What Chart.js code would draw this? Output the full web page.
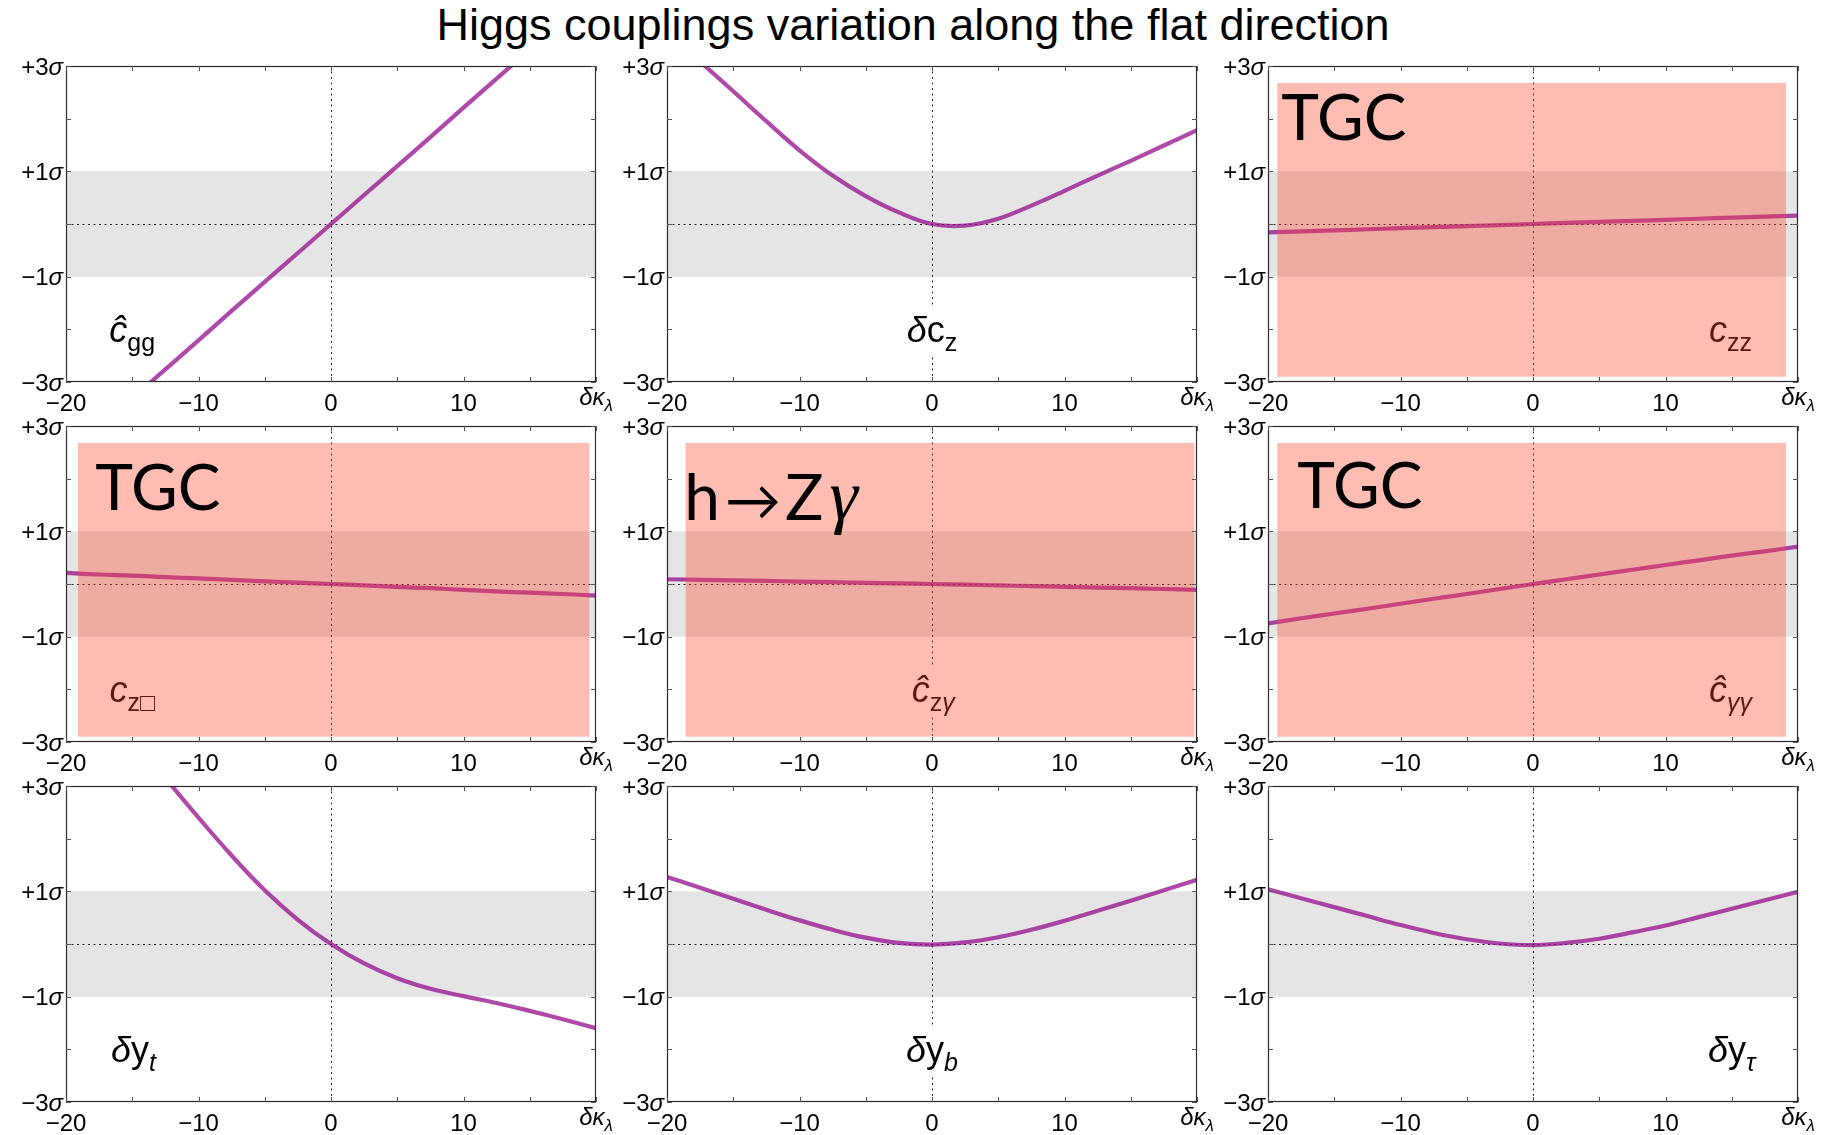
<!DOCTYPE html>
<html>
<head>
<meta charset="utf-8">
<script src="https://cdn.jsdelivr.net/npm/chart.js@4.4.1/dist/chart.umd.min.js"></script>
<style>
  html, body { margin: 0; padding: 0; background: #fff; }
  #page { position: relative; width: 1821px; height: 1135px; overflow: hidden; background: #fff; }
  #title { position: absolute; top: 3px; left: 913px; transform: translateX(-50%); white-space: nowrap;
           font: 45px/44px "Liberation Sans", Arial, sans-serif; color: #000; }
  canvas { position: absolute; }
</style>
</head>
<body>
<div id="page">
  <div id="title">Higgs couplings variation along the flat direction</div>
</div>
<script>
// valori: asse x = δκλ, asse y in unità di σ
const kappaGrid = [-20, -17.5, -15, -12.5, -10, -7.5, -5, -2.5, 0, 2.5, 5, 7.5, 10, 12.5, 15, 17.5, 20];

const cggValues   = [-4.41, -3.86, -3.31, -2.76, -2.21, -1.65, -1.10, -0.55, 0, 0.55, 1.10, 1.65, 2.21, 2.76, 3.31, 3.86, 4.41];
const dczValues   = [3.62, 3.08, 2.52, 1.95, 1.40, 0.92, 0.53, 0.22, 0.0, -0.03, 0.10, 0.35, 0.63, 0.92, 1.20, 1.49, 1.78];
const czzValues   = [-0.16, -0.14, -0.12, -0.10, -0.08, -0.06, -0.04, -0.02, 0, 0.02, 0.04, 0.06, 0.08, 0.10, 0.12, 0.14, 0.16];
const czBoxValues = [0.21, 0.18, 0.16, 0.13, 0.105, 0.08, 0.05, 0.026, 0, -0.027, -0.055, -0.08, -0.11, -0.14, -0.165, -0.19, -0.22];
const czgValues   = [0.09, 0.08, 0.07, 0.06, 0.045, 0.035, 0.022, 0.011, 0, -0.013, -0.026, -0.04, -0.053, -0.067, -0.08, -0.095, -0.11];
const cggamValues = [-0.75, -0.65, -0.56, -0.47, -0.375, -0.28, -0.19, -0.095, 0, 0.09, 0.18, 0.27, 0.36, 0.45, 0.54, 0.62, 0.71];
const dytValues   = [5.55, 4.72, 3.92, 3.15, 2.40, 1.68, 1.02, 0.46, 0, -0.37, -0.65, -0.85, -0.99, -1.12, -1.27, -1.43, -1.60];
const dybValues   = [1.27, 1.07, 0.86, 0.65, 0.45, 0.27, 0.12, 0.02, -0.01, 0.03, 0.13, 0.27, 0.44, 0.63, 0.82, 1.02, 1.22];
const dytauValues = [1.04, 0.87, 0.70, 0.53, 0.36, 0.21, 0.09, 0.01, -0.02, 0.02, 0.10, 0.22, 0.35, 0.51, 0.67, 0.83, 0.99];

const xLabelValues = [-20, -10, 0, 10];
const xLabelTexts  = ['−20', '−10', '0', '10'];
const yLabelValues = [3, 1, -1, -3];
const yLabelTexts  = ['+3', '+1', '−1', '−3'];
const bandRange = [-1, 1];
const boxYRange = [-2.9, 2.68];

// griglia 3x3
const colLeft = [66, 667, 1268];
const rowTop = [66, 426, 786];
const plotW = 530, plotH = 316;
const PAD_L = 66, PAD_R = 24, PAD_T = 14, PAD_B = 36;

const LINE = 'rgba(148, 12, 138, 0.75)';
const OVERLAY = 'rgba(255, 70, 45, 0.36)';
const SANS = '"Liberation Sans", Arial, sans-serif';
const SERIF = '"Liberation Serif", serif';
const BIG = 'Lato, "Liberation Sans", sans-serif';

const panels = [
  { values: cggValues, label: [{ t: 'ĉ', it: true }, { t: 'gg', sub: true }], labelX: -15 },
  { values: dczValues, label: [{ t: 'δ', it: true }, { t: 'c' }, { t: 'z', sub: true }], labelX: 0 },
  { values: czzValues, label: [{ t: 'c', it: true }, { t: 'zz', sub: true }], labelX: 14.9,
    box: [-19.3, 19.1], big: { parts: [{ t: 'TGC' }], x: -19.0, y: 1.6 } },
  { values: czBoxValues, label: [{ t: 'c', it: true }, { t: 'z□', sub: true }], labelX: -15,
    box: [-19.1, 19.5], big: { parts: [{ t: 'TGC' }], x: -17.8, y: 1.4 } },
  { values: czgValues, label: [{ t: 'ĉ', it: true }, { t: 'z', sub: true }, { t: 'γ', sub: true, it: true }], labelX: 0.1,
    box: [-18.6, 19.8],
    big: { parts: [{ t: 'h' }, { t: '→', dx: 5, size: 56 }, { t: 'Z', dx: 4 }, { t: 'γ', it: true, serif: true, dx: 6, size: 72 }], x: -18.7, y: 1.22 } },
  { values: cggamValues, label: [{ t: 'ĉ', it: true }, { t: 'γγ', sub: true, it: true }], labelX: 14.9,
    box: [-19.3, 19.1], big: { parts: [{ t: 'TGC' }], x: -17.8, y: 1.44 } },
  { values: dytValues, label: [{ t: 'δ', it: true }, { t: 'y' }, { t: 't', sub: true, it: true }], labelX: -14.9 },
  { values: dybValues, label: [{ t: 'δ', it: true }, { t: 'y' }, { t: 'b', sub: true, it: true }], labelX: 0 },
  { values: dytauValues, label: [{ t: 'δ', it: true }, { t: 'y' }, { t: 'τ', sub: true, it: true }], labelX: 15 }
];

function fontFor(p, size, fam) {
  const base = p.size || size;
  const s = p.sub ? Math.round(base * 0.7) : base;
  return (p.it ? 'italic ' : '') + s + 'px ' + (p.serif ? SERIF : (fam || SANS));
}

// testo con corsivo/pedici, restituisce [inizio, larghezza]
function drawRich(ctx, parts, x, y, size, align, fam, dry) {
  let total = 0;
  parts.forEach(p => { ctx.font = fontFor(p, size, fam); total += ctx.measureText(p.t).width + (p.dx || 0); });
  let cx = align === 'center' ? x - total / 2 : align === 'right' ? x - total : x;
  const start = cx;
  if (!dry) {
    parts.forEach(p => {
      ctx.font = fontFor(p, size, fam);
      cx += p.dx || 0;
      ctx.fillText(p.t, cx, y + (p.sub ? size * 0.24 : 0));
      cx += ctx.measureText(p.t).width;
    });
  }
  return [start, total];
}

function decorPlugin(p) {
  return {
    id: 'decor',
    beforeDatasetsDraw(chart) {
      const { ctx, chartArea: a, scales: { x, y } } = chart;
      ctx.save();
      ctx.fillStyle = '#e5e5e5';
      const yb1 = y.getPixelForValue(bandRange[1]), yb0 = y.getPixelForValue(bandRange[0]);
      ctx.fillRect(a.left, yb1, a.right - a.left, yb0 - yb1);
      ctx.strokeStyle = 'rgba(0,0,0,0.85)';
      ctx.lineWidth = 1;
      ctx.setLineDash([2, 3.5]);
      const x0 = Math.round(x.getPixelForValue(0)) + 0.5;
      const y0 = Math.round(y.getPixelForValue(0)) + 0.5;
      ctx.beginPath();
      ctx.moveTo(x0, a.top); ctx.lineTo(x0, a.bottom);
      ctx.moveTo(a.left, y0); ctx.lineTo(a.right, y0);
      ctx.stroke();
      ctx.restore();
    },
    afterDatasetsDraw(chart) {
      const { ctx, chartArea: a, scales: { x, y } } = chart;
      ctx.save();
      ctx.textBaseline = 'alphabetic';

      // etichetta del pannello (sfondo bianco)
      const lx = x.getPixelForValue(p.labelX), ly = y.getPixelForValue(-2.24);
      const [ls, lw] = drawRich(ctx, p.label, lx, ly, 36, 'center', SANS, true);
      ctx.fillStyle = '#fff';
      ctx.fillRect(ls - 4, ly - 37, lw + 8, 52);
      ctx.fillStyle = '#000';
      drawRich(ctx, p.label, lx, ly, 36, 'center');

      // riquadro rosa TGC / h->Zγ
      if (p.box) {
        const bx0 = x.getPixelForValue(p.box[0]), bx1 = x.getPixelForValue(p.box[1]);
        const by0 = y.getPixelForValue(boxYRange[1]), by1 = y.getPixelForValue(boxYRange[0]);
        ctx.fillStyle = OVERLAY;
        ctx.fillRect(bx0, by0, bx1 - bx0, by1 - by0);
        ctx.fillStyle = '#000';
        drawRich(ctx, p.big.parts, x.getPixelForValue(p.big.x), y.getPixelForValue(p.big.y), 64, 'left', BIG);
      }

      // cornice e tacche interne
      ctx.strokeStyle = '#2a2a2a';
      ctx.lineWidth = 1.2;
      ctx.strokeRect(Math.round(a.left) + 0.5, Math.round(a.top) + 0.5,
                     Math.round(a.right - a.left) - 1, Math.round(a.bottom - a.top) - 1);
      ctx.strokeStyle = '#555';
      ctx.lineWidth = 1;
      ctx.beginPath();
      x.ticks.forEach(t => {
        const px = Math.round(x.getPixelForValue(t.value)) + 0.5;
        ctx.moveTo(px, a.top); ctx.lineTo(px, a.top + 5);
        ctx.moveTo(px, a.bottom); ctx.lineTo(px, a.bottom - 5);
      });
      y.ticks.forEach(t => {
        const py = Math.round(y.getPixelForValue(t.value)) + 0.5;
        ctx.moveTo(a.left, py); ctx.lineTo(a.left + 5, py);
        ctx.moveTo(a.right, py); ctx.lineTo(a.right - 5, py);
      });
      ctx.stroke();

      // etichette y con σ corsivo
      ctx.fillStyle = '#000';
      yLabelValues.forEach((v, i) => {
        const py = y.getPixelForValue(v) + 8.5;
        drawRich(ctx, [{ t: yLabelTexts[i] }, { t: 'σ', it: true }], a.left - 3, py, 24, 'right');
      });

      // δκλ al posto di 20
      drawRich(ctx, [{ t: 'δκ', it: true }, { t: 'λ', sub: true, it: true }],
               x.getPixelForValue(20), a.bottom + 23, 24, 'center');
      ctx.restore();
    }
  };
}

const page = document.getElementById('page');
panels.forEach((p, k) => {
  const c = k % 3, r = Math.floor(k / 3);
  const cv = document.createElement('canvas');
  const w = PAD_L + plotW + PAD_R, h = PAD_T + plotH + PAD_B;
  cv.width = w; cv.height = h;
  cv.style.width = w + 'px'; cv.style.height = h + 'px';
  cv.style.left = (colLeft[c] - PAD_L) + 'px';
  cv.style.top = (rowTop[r] - PAD_T) + 'px';
  page.appendChild(cv);

  new Chart(cv.getContext('2d'), {
    type: 'line',
    data: {
      datasets: [{
        data: kappaGrid.map((kx, i) => ({ x: kx, y: p.values[i] })),
        borderColor: LINE,
        borderWidth: 4.2,
        pointRadius: 0,
        tension: 0.4,
        clip: 0,
        fill: false
      }]
    },
    options: {
      responsive: false,
      animation: false,
      events: [],
      layout: { padding: { left: PAD_L, right: PAD_R, top: PAD_T, bottom: 0 } },
      plugins: { legend: { display: false }, tooltip: { enabled: false } },
      scales: {
        x: {
          type: 'linear',
          min: -20, max: 20,
          grid: { display: false },
          border: { display: false },
          afterFit: s => { s.height = PAD_B; },
          ticks: {
            stepSize: 5,
            autoSkip: false,
            maxRotation: 0,
            padding: 0,
            color: '#000',
            font: { family: SANS, size: 24 },
            callback: v => {
              const i = xLabelValues.indexOf(v);
              return i >= 0 ? xLabelTexts[i] : '';
            }
          }
        },
        y: {
          type: 'linear',
          display: false,
          min: -3, max: 3,
          ticks: { stepSize: 1 }
        }
      }
    },
    plugins: [decorPlugin(p)]
  });
});
</script>
</body>
</html>
